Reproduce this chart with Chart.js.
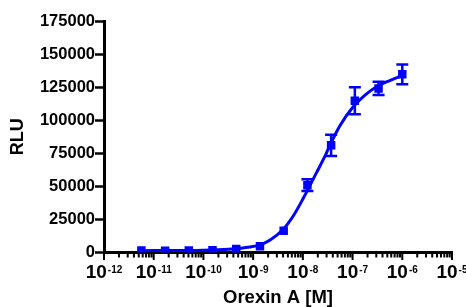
<!DOCTYPE html>
<html>
<head>
<meta charset="utf-8">
<script src="https://cdn.jsdelivr.net/npm/chart.js@4/dist/chart.umd.min.js"></script>
<style>
  body { margin: 0; background: #fff; }
  canvas { display: block; }
</style>
</head>
<body>
<canvas id="doseChart" width="466" height="307"></canvas>
<script>
// measured points (3-fold dilutions of Orexin A)
var concentration = [5.645e-12, 1.694e-11, 5.081e-11, 1.524e-10, 4.572e-10, 1.372e-9,
                     4.115e-9, 1.235e-8, 3.704e-8, 1.111e-7, 3.333e-7, 1e-6];
var rlu = [1500, 1300, 1500, 1800, 2600, 4800, 16500, 50900, 81000, 114800, 124000, 134700];
var rluError = [0, 0, 0, 0, 0, 0, 0, 4500, 8000, 10200, 5000, 7500];

// fitted curve
var curveX = [5.6e-12, 3.2e-11, 1e-10, 3.2e-10, 8.7e-10, 1.38e-9, 2.2e-9, 3.9e-9, 6.5e-9,
              1.02e-8, 1.86e-8, 2.8e-8, 3.5e-8, 5.6e-8, 1.02e-7, 1.78e-7, 3.1e-7, 5.6e-7, 1e-6];
var curveY = [1400, 1500, 1700, 2500, 4200, 5800, 9500, 17000, 28000,
              41000, 60000, 73000, 81000, 96000, 110000, 119000, 125500, 130000, 133800];

var yTicks = [0, 25000, 50000, 75000, 100000, 125000, 150000, 175000];
var xDecades = [-12, -11, -10, -9, -8, -7, -6, -5];

var blue = '#0000ff';
var fontFamily = '"Liberation Sans", Arial, sans-serif';

// error bars with caps
var errorBars = {
  id: 'errorBars',
  afterDatasetsDraw: function(chart) {
    var x = chart.scales.x, y = chart.scales.y, ctx = chart.ctx;
    ctx.save();
    ctx.strokeStyle = blue;
    ctx.lineWidth = 2.5;
    for (var i = 0; i < concentration.length; i++) {
      if (!rluError[i]) continue;
      var px = x.getPixelForValue(concentration[i]);
      var top = y.getPixelForValue(rlu[i] + rluError[i]);
      var bot = y.getPixelForValue(rlu[i] - rluError[i]);
      ctx.beginPath();
      ctx.moveTo(px, top); ctx.lineTo(px, bot);
      ctx.moveTo(px - 6, top); ctx.lineTo(px + 6, top);
      ctx.moveTo(px - 6, bot); ctx.lineTo(px + 6, bot);
      ctx.stroke();
    }
    ctx.restore();
  }
};

// log axis ticks and 10^n labels
var logAxis = {
  id: 'logAxis',
  afterDraw: function(chart) {
    var x = chart.scales.x, ctx = chart.ctx;
    var base = chart.chartArea.bottom + 1.5;
    ctx.save();
    ctx.strokeStyle = '#000';
    ctx.fillStyle = '#000';
    ctx.lineWidth = 2;
    ctx.beginPath();
    xDecades.forEach(function(n, idx) {
      var px = x.getPixelForValue(Math.pow(10, n));
      ctx.moveTo(px, base); ctx.lineTo(px, base + 6);
      if (idx < xDecades.length - 1) {
        for (var k = 2; k <= 9; k++) {
          var mx = x.getPixelForValue(k * Math.pow(10, n));
          ctx.moveTo(mx, base); ctx.lineTo(mx, base + 3.5);
        }
      }
    });
    ctx.stroke();

    ctx.textBaseline = 'alphabetic';
    ctx.textAlign = 'left';
    xDecades.forEach(function(n) {
      var px = x.getPixelForValue(Math.pow(10, n));
      ctx.font = 'bold 19px ' + fontFamily;
      var w1 = ctx.measureText('10').width;
      ctx.font = 'bold 10px ' + fontFamily;
      var exp = '-' + Math.abs(n);
      var w2 = ctx.measureText(exp).width;
      var left = px - (w1 + w2 + 1) / 2;
      ctx.font = 'bold 19px ' + fontFamily;
      ctx.fillText('10', left, 278);
      ctx.font = 'bold 10px ' + fontFamily;
      ctx.fillText(exp, left + w1 + 1, 272.5);
    });
    ctx.restore();
  }
};

var ctx = document.getElementById('doseChart');
var doseChart = new Chart(ctx, {
  data: {
    datasets: [{
      type: 'line',
      data: curveX.map(function(v, i) { return { x: v, y: curveY[i] }; }),
      borderColor: blue,
      borderWidth: 3,
      pointRadius: 0,
      fill: false,
      cubicInterpolationMode: 'monotone'
    }, {
      type: 'scatter',
      data: concentration.map(function(v, i) { return { x: v, y: rlu[i] }; }),
      pointStyle: 'rect',
      pointRadius: 6,
      backgroundColor: blue,
      borderColor: blue,
      borderWidth: 0
    }]
  },
  options: {
    responsive: false,
    animation: false,
    layout: { padding: { top: 21, right: 14, left: 0, bottom: 0 } },
    plugins: {
      legend: { display: false },
      tooltip: { enabled: false }
    },
    scales: {
      x: {
        type: 'logarithmic',
        min: 1e-12,
        max: 1e-5,
        grid: { display: false },
        border: { display: true, color: '#000', width: 3 },
        ticks: { display: false },
        title: {
          display: true,
          text: 'Orexin A [M]',
          color: '#000',
          font: { family: fontFamily, size: 18.5, weight: 'bold', lineHeight: 1 },
          padding: { top: 0, bottom: 0 }
        },
        afterFit: function(scale) { scale.height = 54.5; }
      },
      y: {
        min: 0,
        max: 175000,
        afterBuildTicks: function(scale) {
          scale.ticks = yTicks.map(function(v) { return { value: v }; });
        },
        grid: { drawOnChartArea: false, drawTicks: true, tickLength: 9, tickWidth: 2.5, tickColor: '#000' },
        border: { display: true, color: '#000', width: 3 },
        ticks: {
          padding: 0,
          color: '#000',
          font: { family: fontFamily, size: 16.5, weight: 'bold' },
          callback: function(v) { return String(v); }
        },
        title: {
          display: true,
          text: 'RLU',
          color: '#000',
          font: { family: fontFamily, size: 18, weight: 'bold', lineHeight: 1 },
          padding: { top: 9.5, bottom: 0 }
        },
        afterFit: function(scale) { scale.width = 104; }
      }
    }
  },
  plugins: [errorBars, logAxis]
});
</script>
</body>
</html>
